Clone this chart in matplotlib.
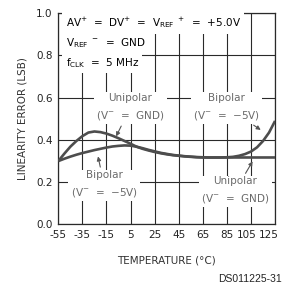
import numpy as np
import matplotlib
matplotlib.use("Agg")
import matplotlib.pyplot as plt
import matplotlib.transforms as mtransforms

# temperature axis (deg C)
temp = [-55, -50, -45, -40, -35, -30, -25, -20, -15, -10, -5, 0, 5, 10, 15, 20,
        25, 30, 35, 40, 45, 50, 55, 60, 65, 70, 75, 80, 85, 90, 95, 100, 105,
        110, 115, 120, 125]

# linearity error (LSB)
unipolar = [0.300, 0.335, 0.368, 0.395, 0.418, 0.435, 0.440, 0.437, 0.430, 0.420,
            0.408, 0.395, 0.382, 0.368, 0.358, 0.350, 0.343, 0.337, 0.332, 0.328,
            0.325, 0.322, 0.320, 0.318, 0.317, 0.317, 0.317, 0.317, 0.317, 0.317,
            0.317, 0.317, 0.317, 0.317, 0.317, 0.317, 0.317]
bipolar = [0.300, 0.311, 0.321, 0.330, 0.338, 0.345, 0.352, 0.358, 0.364, 0.369,
           0.372, 0.374, 0.373, 0.368, 0.361, 0.353, 0.346, 0.339, 0.334, 0.329,
           0.326, 0.323, 0.321, 0.319, 0.318, 0.317, 0.317, 0.317, 0.318, 0.320,
           0.325, 0.333, 0.345, 0.365, 0.395, 0.435, 0.490]

x_ticks = [-55, -35, -15, 5, 25, 45, 65, 85, 105, 125]
y_ticks = [0.0, 0.2, 0.4, 0.6, 0.8, 1.0]

grid_col = '#2a2a2a'
curve_col = '#4d4d4d'
label_col = '#6a6a6a'

fig = plt.figure(figsize=(2.83, 2.88), dpi=100)
ax = fig.add_axes([0.206, 0.2205, 0.766, 0.734])

ax.plot(temp, bipolar, color=curve_col, lw=1.9, zorder=3, solid_capstyle='butt')
ax.plot(temp, unipolar, color=curve_col, lw=1.9, zorder=3, solid_capstyle='butt')

ax.set_xlim(-55, 125)
ax.set_ylim(0, 1.0)
ax.set_xticks(x_ticks)
ax.set_yticks(y_ticks)
ax.set_xticklabels([str(t) for t in x_ticks], fontsize=7.5)
ax.set_yticklabels([f'{v:.1f}' for v in y_ticks], fontsize=7.5)
ax.tick_params(length=0, pad=4, colors='#222222')

# the last two labels sit a little left of their grid lines, as in the source
xlabels = ax.get_xticklabels()
for lab, dx in zip(xlabels[-2:], [-4, -6]):
    lab.set_transform(lab.get_transform() +
                      mtransforms.ScaledTranslation(dx / 100, 0, fig.dpi_scale_trans))

ax.grid(True, color=grid_col, lw=0.8, zorder=1)
for s in ax.spines.values():
    s.set_color(grid_col)
    s.set_linewidth(0.9)

ax.set_xlabel('TEMPERATURE (\u00b0C)', fontsize=7.5, labelpad=11, color='#333333')
ax.set_ylabel('LINEARITY ERROR (LSB)', fontsize=7.5, labelpad=6, color='#333333')

# condition block, white boxes hide the grid underneath
box = dict(facecolor='white', edgecolor='none', pad=2.5)
ax.text(-49, 0.955, r'AV$^{+}$  =  DV$^{+}$  =  V$_{\mathrm{REF}}$$^{\ +}$  =  +5.0V',
        fontsize=7.5, va='center', ha='left', bbox=box, zorder=4)
ax.text(-49, 0.86, r'V$_{\mathrm{REF}}$$^{\ -}$  =  GND',
        fontsize=7.5, va='center', ha='left', bbox=box, zorder=4)
ax.text(-49, 0.765, r'f$_{\mathrm{CLK}}$  =  5 MHz',
        fontsize=7.5, va='center', ha='left', bbox=box, zorder=4)

lbl = dict(fontsize=7.5, color=label_col, ha='center', va='center', zorder=4,
           linespacing=1.6, bbox=dict(facecolor='white', edgecolor='none', pad=1.5))
arr = dict(arrowstyle='-|>', color='#555555', lw=0.8, mutation_scale=6)

ax.annotate('Unipolar\n(V$^{-}$  =  GND)', xy=(-8, 0.405), xytext=(5, 0.555),
            arrowprops=arr, **lbl)
ax.annotate('Bipolar\n(V$^{-}$  =  \u22125V)', xy=(115, 0.44), xytext=(85, 0.555),
            arrowprops=arr, **lbl)
ax.annotate('Bipolar\n(V$^{-}$  =  \u22125V)', xy=(-22.5, 0.335), xytext=(-17, 0.188),
            arrowprops=arr, **lbl)
ax.annotate('Unipolar\n(V$^{-}$  =  GND)', xy=(107.5, 0.31), xytext=(92, 0.16),
            arrowprops=arr, **lbl)

fig.text(0.882, 0.031, 'DS011225-31', fontsize=7.5, ha='center', va='center',
         family='Liberation Sans', color='#222222')

fig.savefig('out.png', dpi=100)
